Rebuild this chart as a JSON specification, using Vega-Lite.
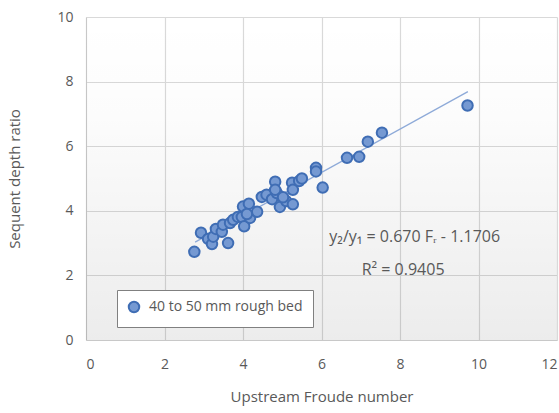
{
  "$schema": "https://vega.github.io/schema/vega-lite/v6.json",
  "width": 471,
  "height": 323,
  "autosize": "none",
  "padding": {"left": 86, "top": 17, "right": 2, "bottom": 73},
  "background": "white",
  "config": {
    "font": "Open Sans",
    "view": {"stroke": null},
    "axis": {
      "gridColor": "#d9d9d9", "gridWidth": 1.2,
      "domainColor": "#c8c8c8", "ticks": false,
      "labelColor": "#595959", "labelFontSize": 14,
      "titleColor": "#595959", "titleFontSize": 15, "titleFontWeight": "normal"
    }
  },
  "datasets": {
    "pts": [
      {"fr": 2.76, "ratio": 2.73}, {"fr": 2.93, "ratio": 3.32}, {"fr": 3.11, "ratio": 3.13},
      {"fr": 3.21, "ratio": 2.97}, {"fr": 3.24, "ratio": 3.2}, {"fr": 3.31, "ratio": 3.44},
      {"fr": 3.46, "ratio": 3.35}, {"fr": 3.62, "ratio": 3.0}, {"fr": 3.49, "ratio": 3.57},
      {"fr": 3.67, "ratio": 3.62}, {"fr": 3.75, "ratio": 3.72}, {"fr": 3.87, "ratio": 3.81},
      {"fr": 3.97, "ratio": 3.81}, {"fr": 4.03, "ratio": 3.52}, {"fr": 4.0, "ratio": 4.13},
      {"fr": 4.15, "ratio": 4.22}, {"fr": 4.18, "ratio": 3.78}, {"fr": 4.36, "ratio": 3.97},
      {"fr": 4.1, "ratio": 3.9}, {"fr": 4.48, "ratio": 4.43}, {"fr": 4.6, "ratio": 4.5},
      {"fr": 4.74, "ratio": 4.36}, {"fr": 4.86, "ratio": 4.55}, {"fr": 4.94, "ratio": 4.12},
      {"fr": 5.1, "ratio": 4.3}, {"fr": 4.82, "ratio": 4.9}, {"fr": 4.82, "ratio": 4.65},
      {"fr": 5.02, "ratio": 4.42}, {"fr": 5.27, "ratio": 4.2}, {"fr": 5.25, "ratio": 4.87},
      {"fr": 5.27, "ratio": 4.65}, {"fr": 5.43, "ratio": 4.92}, {"fr": 5.5, "ratio": 5.0},
      {"fr": 5.86, "ratio": 5.33}, {"fr": 5.86, "ratio": 5.22}, {"fr": 6.03, "ratio": 4.72},
      {"fr": 6.65, "ratio": 5.64}, {"fr": 6.96, "ratio": 5.67}, {"fr": 7.18, "ratio": 6.14},
      {"fr": 7.54, "ratio": 6.42}, {"fr": 9.72, "ratio": 7.26}
    ],
    "fit": [{"fr": 2.78, "ratio": 3.03}, {"fr": 9.73, "ratio": 7.69}],
    "bg": [{"x0": 0, "x1": 12, "y0": 0, "y1": 10}]
  },
  "encoding": {
    "x": {"field": "fr", "type": "quantitative", "scale": {"domain": [0, 12], "nice": false},
      "axis": {"values": [0, 2, 4, 6, 8, 10, 12], "title": "Upstream Froude number", "labelPadding": 17, "titlePadding": 18}},
    "y": {"field": "ratio", "type": "quantitative", "scale": {"domain": [0, 10], "nice": false},
      "axis": {"values": [0, 2, 4, 6, 8, 10], "title": "Sequent depth ratio", "labelPadding": 13, "titlePadding": 34}}
  },
  "layer": [
    {
      "data": {"name": "bg"},
      "mark": {"type": "rect", "color": {"gradient": "linear", "x1": 0, "y1": 0, "x2": 0, "y2": 1, "stops": [{"offset": 0, "color": "rgba(0,0,0,0)"}, {"offset": 0.3, "color": "rgba(0,0,0,0.01)"}, {"offset": 1, "color": "rgba(0,0,0,0.075)"}]}},
      "encoding": {
        "x": {"field": "x0", "type": "quantitative"},
        "x2": {"field": "x1"},
        "y": {"field": "y0", "type": "quantitative"},
        "y2": {"field": "y1"}
      }
    },
    {
      "data": {"name": "fit"},
      "mark": {"type": "line", "color": "#8eaad8", "strokeWidth": 1.3}
    },
    {
      "data": {"name": "pts"},
      "mark": {"type": "point", "shape": "circle", "filled": true, "size": 110, "opacity": 1, "stroke": "#3f6db4", "strokeWidth": 2},
      "encoding": {
        "color": {"datum": "40 to 50 mm rough bed", "type": "nominal",
          "scale": {"range": ["#7599d2"]},
          "legend": {"title": null, "orient": "none", "legendX": 31, "legendY": 273,
            "strokeColor": "#808080", "padding": 10, "fillColor": "white",
            "labelFontSize": 14, "labelColor": "#595959", "symbolSize": 110,
            "symbolStrokeColor": "#3f6db4", "symbolStrokeWidth": 2, "labelOffset": 8}}
      }
    },
    {
      "data": {"values": [{"fr": 6.2, "ratio": 3.2, "label": "y₂/y₁ = 0.670 Fᵣ - 1.1706"}]},
      "mark": {"type": "text", "fontSize": 16, "color": "#595959", "align": "left"},
      "encoding": {"text": {"field": "label"}}
    },
    {
      "data": {"values": [{"fr": 8.08, "ratio": 2.17, "label": "R² = 0.9405"}]},
      "mark": {"type": "text", "fontSize": 16, "color": "#595959", "align": "center"},
      "encoding": {"text": {"field": "label"}}
    }
  ]
}
